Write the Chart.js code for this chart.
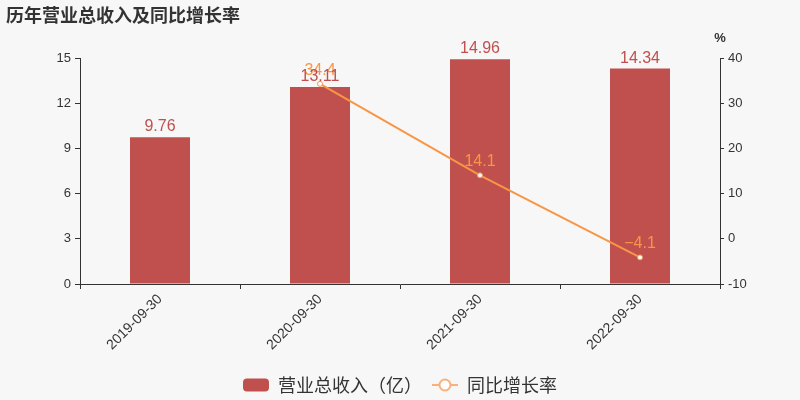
<!DOCTYPE html>
<html>
<head>
<meta charset="utf-8">
<script src="https://cdn.jsdelivr.net/npm/chart.js@4"></script>
<style>
  html, body { margin: 0; padding: 0; background: #f7f7f7; }
  #wrap { width: 800px; height: 400px; }
</style>
</head>
<body>
<div id="wrap"><canvas id="revenueChart" width="800" height="400"></canvas></div>
<script>
const periods = ['2019-09-30', '2020-09-30', '2021-09-30', '2022-09-30'];
const revenue = [9.76, 13.11, 14.96, 14.34];
const growthRate = [null, 34.4, 14.1, -4.1];
const leftTicks = [0, 3, 6, 9, 12, 15];
const rightTicks = [-10, 0, 10, 20, 30, 40];

const FONT = '"Liberation Sans", Arial, "Noto Sans CJK SC", sans-serif';
const BAR_COLOR = '#c0504d';
const LINE_COLOR = '#f79646';
const TEXT_COLOR = '#333333';

function legendIcon(kind) {
  const c = document.createElement('canvas');
  c.width = 26;
  c.height = 14;
  const ctx = c.getContext('2d');
  if (kind === 'bar') {
    ctx.fillStyle = BAR_COLOR;
    ctx.beginPath();
    ctx.roundRect(0, 0.5, 26, 13, 4);
    ctx.fill();
  } else {
    ctx.strokeStyle = '#f9b07a';
    ctx.lineWidth = 2;
    ctx.beginPath();
    ctx.moveTo(0, 7);
    ctx.lineTo(26, 7);
    ctx.stroke();
    ctx.fillStyle = '#ffffff';
    ctx.beginPath();
    ctx.arc(13, 7, 5.5, 0, Math.PI * 2);
    ctx.fill();
    ctx.stroke();
  }
  return c;
}
const legendIcons = [legendIcon('bar'), legendIcon('line')];

const valueLabels = {
  id: 'valueLabels',
  afterDatasetsDraw(chart) {
    const ctx = chart.ctx;
    ctx.save();
    ctx.font = '16px ' + FONT;
    ctx.textAlign = 'center';
    ctx.textBaseline = 'alphabetic';

    chart.getDatasetMeta(1).data.forEach((pt, i) => {
      if (growthRate[i] === null) return;
      ctx.fillStyle = LINE_COLOR;
      ctx.fillText(String(growthRate[i]).replace('-', '\u2212'), pt.x, pt.y - 9);
    });

    chart.getDatasetMeta(0).data.forEach((bar, i) => {
      ctx.fillStyle = BAR_COLOR;
      ctx.fillText(revenue[i].toFixed(2), bar.x, bar.y - 6);
    });

    // unit of the right axis
    ctx.font = 'bold 13px ' + FONT;
    ctx.fillStyle = TEXT_COLOR;
    ctx.fillText('%', chart.chartArea.right, 42);
    ctx.restore();
  },
};

Chart.defaults.font.family = FONT;
Chart.defaults.color = TEXT_COLOR;

new Chart(document.getElementById('revenueChart'), {
  type: 'bar',
  data: {
    labels: periods,
    datasets: [
      {
        label: '营业总收入（亿）',
        data: revenue,
        backgroundColor: BAR_COLOR,
        categoryPercentage: 1,
        barPercentage: 0.375,
        yAxisID: 'y',
        order: 2,
      },
      {
        type: 'line',
        label: '同比增长率',
        data: growthRate,
        borderColor: LINE_COLOR,
        borderWidth: 2,
        backgroundColor: '#ffffff',
        pointStyle: 'circle',
        pointRadius: 2.5,
        pointBorderWidth: 1,
        pointBorderColor: LINE_COLOR,
        pointBackgroundColor: '#ffffff',
        tension: 0,
        yAxisID: 'y1',
        order: 1,
      },
    ],
  },
  options: {
    responsive: false,
    animation: false,
    layout: { padding: { left: 6, right: 6, top: 0, bottom: -4 } },
    plugins: {
      title: {
        display: true,
        text: '历年营业总收入及同比增长率',
        align: 'start',
        color: TEXT_COLOR,
        font: { size: 18, weight: 'bold', family: '"Noto Sans CJK SC", sans-serif' },
        padding: { top: 4, bottom: 33 },
      },
      legend: {
        position: 'bottom',
        labels: {
          usePointStyle: true,
          pointStyleWidth: 26,
          padding: 10,
          color: TEXT_COLOR,
          font: { size: 18, family: '"Noto Sans CJK SC", sans-serif' },
          generateLabels(chart) {
            const items = Chart.defaults.plugins.legend.labels.generateLabels(chart);
            items.forEach((item) => {
              item.pointStyle = legendIcons[item.datasetIndex];
            });
            return items;
          },
          sort: (a, b) => a.datasetIndex - b.datasetIndex,
        },
      },
      tooltip: { enabled: false },
    },
    scales: {
      x: {
        offset: true,
        grid: { display: true, offset: true, drawOnChartArea: false, drawTicks: true, tickLength: 5, color: TEXT_COLOR },
        border: { color: TEXT_COLOR },
        ticks: { minRotation: 45, maxRotation: 45, padding: 2, font: { size: 14 }, color: TEXT_COLOR },
        afterFit(scale) { scale.height = 82; },
      },
      y: {
        position: 'left',
        min: 0,
        max: 15,
        afterBuildTicks(scale) { scale.ticks = leftTicks.map((v) => ({ value: v })); },
        grid: { drawOnChartArea: false, tickLength: 5, color: TEXT_COLOR },
        border: { color: TEXT_COLOR },
        ticks: { padding: 4, font: { size: 13 }, color: TEXT_COLOR },
        afterFit(scale) { scale.width = 74; },
      },
      y1: {
        position: 'right',
        min: -10,
        max: 40,
        afterBuildTicks(scale) { scale.ticks = rightTicks.map((v) => ({ value: v })); },
        grid: { drawOnChartArea: false, tickLength: 4, color: TEXT_COLOR },
        border: { color: TEXT_COLOR },
        ticks: { padding: 4, font: { size: 13 }, color: TEXT_COLOR },
        afterFit(scale) { scale.width = 74; },
      },
    },
  },
  plugins: [valueLabels],
});
</script>
</body>
</html>
